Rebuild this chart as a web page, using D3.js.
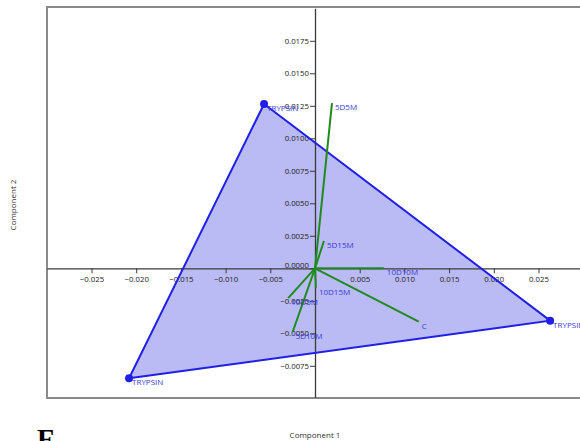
<!DOCTYPE html>
<html>
<head>
<meta charset="utf-8">
<script src="https://cdn.jsdelivr.net/npm/d3@7"></script>
<style>
  html, body { margin: 0; padding: 0; background: #fff; overflow: hidden; }
  svg { display: block; }
  .tick text { font-family: "Open Sans", "Liberation Sans", sans-serif; font-size: 7.8px; fill: #222; }
</style>
</head>
<body>
<svg id="chart" width="580" height="441"></svg>
<script>
// Scores (samples) on the first two components
const scoreNames = ["TRYPSIN", "TRYPSIN", "TRYPSIN"];
const scoreX = [-0.0057, -0.0208, 0.0263];
const scoreY = [0.01264, -0.00846, -0.00403];

// Loadings (variables) drawn as vectors from the origin
const loadingNames = ["5D5M", "5D15M", "10D10M", "10D15M", "C", "10D5M", "5D10M"];
const loadingX = [0.0019, 0.0010, 0.0077, 0.0001, 0.0116, -0.0030, -0.0025];
const loadingY = [0.0127, 0.0021, 0.0, -0.0015, -0.0041, -0.0023, -0.0049];

// Tick values
const xTicks = [-0.025, -0.020, -0.015, -0.010, -0.005, 0.005, 0.010, 0.015, 0.020, 0.025];
const yTicks = [-0.0075, -0.005, -0.0025, 0, 0.0025, 0.005, 0.0075, 0.01, 0.0125, 0.015, 0.0175];

const svg = d3.select("#chart");

const frame = { left: 47, top: 7, right: 582, bottom: 398 };

const x = d3.scaleLinear().domain([-0.03, 0.03]).range([46.8, 583.2]);
const y = d3.scaleLinear().domain([-0.01, 0.02]).range([398.3, 8.3]);

svg.append("defs").append("clipPath").attr("id", "plotClip")
  .append("rect")
  .attr("x", frame.left).attr("y", frame.top)
  .attr("width", frame.right - frame.left).attr("height", frame.bottom - frame.top);

// Plot frame
svg.append("rect")
  .attr("x", frame.left).attr("y", frame.top)
  .attr("width", frame.right - frame.left).attr("height", frame.bottom - frame.top)
  .attr("fill", "#fff")
  .attr("stroke", "#8a8a8a")
  .attr("stroke-width", 2);

const plot = svg.append("g").attr("clip-path", "url(#plotClip)");

// Convex hull of the sample scores
const pts = scoreX.map((v, i) => [x(v), y(scoreY[i])]);
plot.append("path")
  .attr("d", "M" + pts.map(p => p.join(",")).join("L") + "Z")
  .attr("fill", "rgb(186,186,245)")
  .attr("stroke", "none");

// Axes through the origin
const xAxis = d3.axisBottom(x).tickValues(xTicks).tickSize(5).tickSizeOuter(0)
  .tickFormat(d3.format(".3f"));
const yAxis = d3.axisLeft(y).tickValues(yTicks).tickSize(5).tickSizeOuter(0)
  .tickFormat(d3.format(".4f"));

const gx = plot.append("g").attr("transform", `translate(0,${y(0)})`).call(xAxis);
const gy = plot.append("g").attr("transform", `translate(${x(0)},0)`).call(yAxis);

[gx, gy].forEach(g => {
  g.select(".domain").attr("stroke", "#3a3a3a").attr("stroke-width", 1.3);
  g.selectAll(".tick line").attr("stroke", "#3a3a3a").attr("stroke-width", 1);
});
gx.selectAll(".tick text").attr("dy", "0.9em").attr("y", 7);
gy.selectAll(".tick text").attr("x", -6);
gy.selectAll(".tick").filter(d => d === 0).select("text").attr("dy", "-0.05em");

// Hull outline on top of axes
plot.append("path")
  .attr("d", "M" + pts.map(p => p.join(",")).join("L") + "Z")
  .attr("fill", "none")
  .attr("stroke", "#1f1fe6")
  .attr("stroke-width", 2);

// Loading vectors
const loadings = loadingNames.map((n, i) => ({ name: n, x: loadingX[i], y: loadingY[i] }));
plot.selectAll("line.load").data(loadings).join("line")
  .attr("class", "load")
  .attr("x1", x(0)).attr("y1", y(0))
  .attr("x2", d => x(d.x)).attr("y2", d => y(d.y))
  .attr("stroke", "#1f8a1f")
  .attr("stroke-width", 2);

const labelFont = "\"Open Sans\", \"Liberation Sans\", sans-serif";
plot.selectAll("text.load").data(loadings).join("text")
  .attr("class", "load")
  .attr("x", d => x(d.x) + 3)
  .attr("y", d => y(d.y) + 7)
  .attr("font-family", labelFont)
  .attr("font-size", 8)
  .attr("fill", "#3a3ad6")
  .text(d => d.name);

// Sample points
const scores = scoreNames.map((n, i) => ({ name: n, x: scoreX[i], y: scoreY[i] }));
plot.selectAll("circle.score").data(scores).join("circle")
  .attr("class", "score")
  .attr("cx", d => x(d.x)).attr("cy", d => y(d.y))
  .attr("r", 4)
  .attr("fill", "#1f1fe6");

plot.selectAll("text.score").data(scores).join("text")
  .attr("class", "score")
  .attr("x", d => x(d.x) + 3)
  .attr("y", d => y(d.y) + 7)
  .attr("font-family", labelFont)
  .attr("font-size", 8)
  .attr("fill", "#3a3ad6")
  .text(d => d.name);

// Axis titles
svg.append("text")
  .attr("x", 315).attr("y", 438)
  .attr("text-anchor", "middle")
  .attr("font-family", labelFont)
  .attr("font-size", 8)
  .attr("fill", "#333")
  .text("Component 1");

svg.append("text")
  .attr("transform", "translate(16,205) rotate(-90)")
  .attr("text-anchor", "middle")
  .attr("font-family", labelFont)
  .attr("font-size", 8)
  .attr("fill", "#333")
  .text("Component 2");

// Panel letter
svg.append("text")
  .attr("x", 37).attr("y", 448)
  .attr("font-family", "\"Liberation Serif\", \"DejaVu Serif\", serif")
  .attr("font-weight", "bold")
  .attr("font-size", 28)
  .attr("fill", "#000")
  .text("F");
</script>
</body>
</html>
